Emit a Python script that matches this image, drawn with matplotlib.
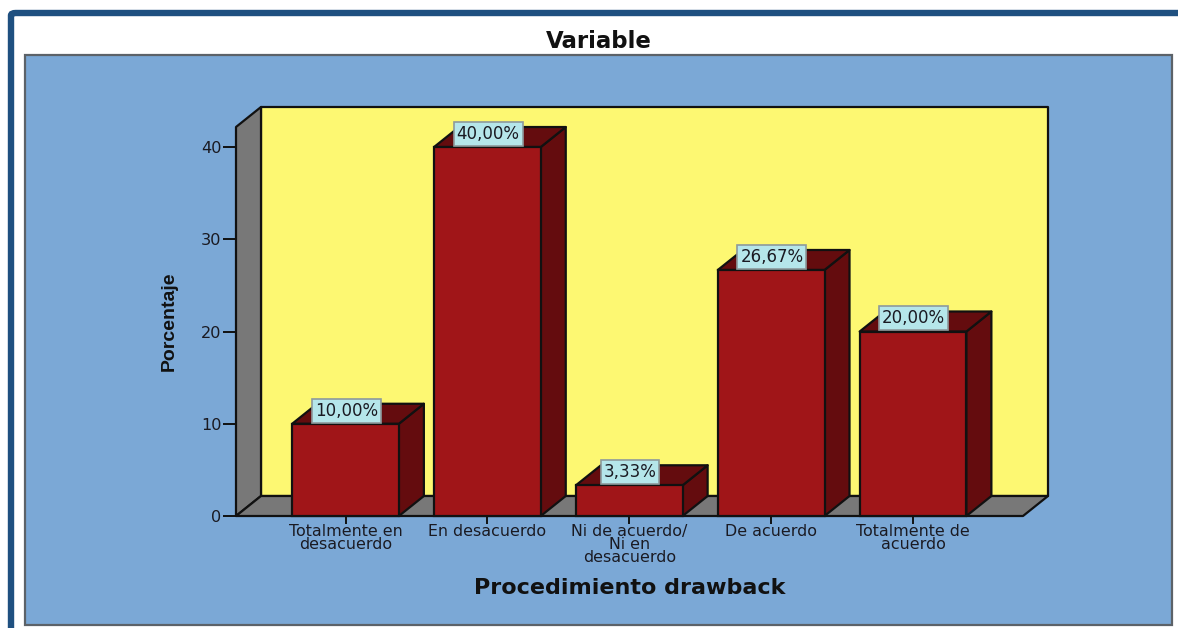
import matplotlib
matplotlib.use("Agg")
import matplotlib.pyplot as plt
from matplotlib.patches import Polygon, Rectangle, FancyBboxPatch

W, H = 1178, 628
categories = ["Totalmente en\ndesacuerdo", "En desacuerdo", "Ni de acuerdo/\nNi en\ndesacuerdo",
              "De acuerdo", "Totalmente de\nacuerdo"]
values = [10.0, 40.0, 3.33, 26.67, 20.0]
labels = ["10,00%", "40,00%", "3,33%", "26,67%", "20,00%"]
yticks = [0, 10, 20, 30, 40]
title = "Variable"
xlabel = "Procedimiento drawback"
ylabel = "Porcentaje"

BLUE = "#7BA8D6"; YEL = "#FDF872"; GREY = "#787878"; RED = "#A01518"; DARK = "#640C0E"
LBL = "#B5E6EA"; FRAME = "#1F5080"; TXT = "#1a1a22"

fig = plt.figure(figsize=(W/100, H/100), dpi=100, facecolor="white")

def fx(x): return x / W
def fy(y): return 1 - y / H

# outer frame and panel
fig.add_artist(FancyBboxPatch((fx(11), fy(640)), fx(1300), fy(13) - fy(640),
                              boxstyle="round,pad=0,rounding_size=0.004", transform=fig.transFigure,
                              fc="white", ec=FRAME, lw=4.6, zorder=-3))
fig.add_artist(Rectangle((fx(24.5), fy(625)), fx(1147), fy(54.5) - fy(625), transform=fig.transFigure,
                         fc=BLUE, ec="#5c6268", lw=1.6, zorder=-2))

left, right, top, bottom = 236, 1023, 127, 516
ax = fig.add_axes([fx(left), fy(bottom), fx(right - left), fy(top) - fy(bottom)])
ax.patch.set_visible(False)
xmin, xmax = -0.772, 4.775
ymax = 42.17
ax.set_xlim(xmin, xmax)
ax.set_ylim(0, ymax)
dx = 25 / ((right - left) / (xmax - xmin))
dy = 20 / ((bottom - top) / ymax)
w = 0.752
pos = list(range(len(values)))

def poly(pts, fc, z):
    ax.add_patch(Polygon(pts, closed=True, fc=fc, ec="#111111", lw=1.6, joinstyle="round",
                         clip_on=False, zorder=z))

poly([(xmin + dx, dy), (xmax + dx, dy), (xmax + dx, ymax + dy), (xmin + dx, ymax + dy)], YEL, 1)
poly([(xmin, 0), (xmin + dx, dy), (xmin + dx, ymax + dy), (xmin, ymax)], GREY, 1.1)
poly([(xmin, 0), (xmax, 0), (xmax + dx, dy), (xmin + dx, dy)], GREY, 1.2)

for x, v in zip(pos, values):
    l, r = x - w / 2, x + w / 2
    poly([(r, 0), (r + dx, dy), (r + dx, v + dy), (r, v)], DARK, 2)
    poly([(l, v), (l + dx, v + dy), (r + dx, v + dy), (r, v)], DARK, 2)
ax.bar(pos, values, width=w, color=RED, edgecolor="#111111", linewidth=1.6, zorder=3, clip_on=False)

for x, v, s in zip(pos, values, labels):
    ax.annotate(s, (x, v), xytext=(0.5, 3.0), textcoords="offset points", ha="center", va="bottom",
                fontsize=12, family="DejaVu Sans", color=TXT, zorder=5, annotation_clip=False,
                bbox=dict(boxstyle="square,pad=0.18", fc=LBL, ec="#8d9a9c", lw=1.2))

for s in ax.spines.values():
    s.set_visible(False)
ax.set_yticks(yticks)
ax.set_xticks(pos)
ax.set_xticklabels(categories, fontsize=11.4, family="DejaVu Sans", color=TXT, linespacing=0.82, va="top")
ax.tick_params(axis="y", length=9.5, width=1.4, color="#111111", labelsize=11.6, labelcolor=TXT, pad=1)
ax.tick_params(axis="x", length=5.5, width=1.4, color="#111111", pad=0.5)

fig.text(fx(599), fy(41), title, ha="center", va="center", fontsize=16.5, fontweight="bold",
         family="DejaVu Sans", color="#111111")
fig.text(fx(630), fy(588), xlabel, ha="center", va="center", fontsize=16, fontweight="bold",
         family="DejaVu Sans", color="#111111")
fig.text(fx(169), fy(321), ylabel, ha="center", va="center", rotation=90, fontsize=14, fontweight="bold",
         family="Liberation Sans", color="#111111")

fig.savefig("out.png", dpi=100, facecolor="white")
